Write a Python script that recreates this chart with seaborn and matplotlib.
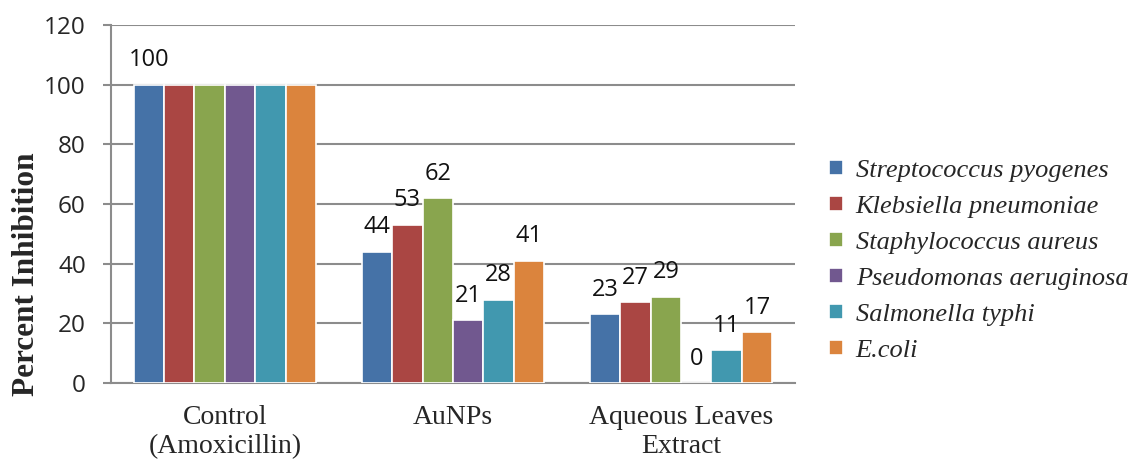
import matplotlib
matplotlib.use("Agg")
import matplotlib.pyplot as plt
import seaborn as sns
import pandas as pd

# Treatment groups and bacterial strains
groups = ["Control\n(Amoxicillin)", "AuNPs", "Aqueous Leaves\nExtract"]
strains = [
    "Streptococcus pyogenes",
    "Klebsiella pneumoniae",
    "Staphylococcus aureus",
    "Pseudomonas aeruginosa",
    "Salmonella typhi",
    "E.coli",
]

# Percent inhibition per strain, one list per treatment group
control_vals = [100, 100, 100, 100, 100, 100]
aunps_vals = [44, 53, 62, 21, 28, 41]
extract_vals = [23, 27, 29, 0, 11, 17]

colors = ["#4572A7", "#AA4643", "#89A54E", "#71588F", "#4198AF", "#DB843D"]

rows = []
for g, vals in zip(groups, [control_vals, aunps_vals, extract_vals]):
    for s, v in zip(strains, vals):
        rows.append({"Group": g, "Strain": s, "Inhibition": v})
df = pd.DataFrame(rows)

sns.set_theme(style="white")
plt.rcParams["font.family"] = ["Open Sans", "DejaVu Sans"]

fig = plt.figure(figsize=(11.31, 4.61), dpi=100)
ax = fig.add_axes([0.098, 0.169, 0.605, 0.777])

sns.barplot(
    data=df, x="Group", y="Inhibition", hue="Strain",
    order=groups, hue_order=strains, palette=colors,
    width=0.8, edgecolor="white", linewidth=1.2, saturation=1,
    ax=ax, zorder=3,
)

ax.set_ylim(0, 120)
ax.set_xlim(-0.5, 2.5)
ax.set_yticks(range(0, 121, 20))
ax.yaxis.grid(True, color="#8c8c8c", linewidth=1.5, zorder=0)
ax.set_axisbelow(True)

for side in ["top", "right"]:
    ax.spines[side].set_visible(False)
for side in ["left", "bottom"]:
    ax.spines[side].set_color("#8c8c8c")
    ax.spines[side].set_linewidth(1.5)

ax.tick_params(axis="y", length=6, width=1.5, color="#8c8c8c",
               labelsize=17.5, pad=12, left=True)
ax.tick_params(axis="x", length=0, pad=16)
for lbl in ax.get_xticklabels():
    lbl.set_fontfamily("Liberation Serif")
    lbl.set_fontsize(20)
    lbl.set_linespacing(1.22)

ax.set_xlabel("")
ax.set_ylabel("Percent Inhibition", fontfamily="Liberation Serif",
              fontsize=22.5, fontweight="bold")
ax.yaxis.set_label_coords(-0.102, 0.305)

# Value labels: control group is labelled once, on its first bar
for i, cont in enumerate(ax.containers):
    vals = [control_vals[i], aunps_vals[i], extract_vals[i]]
    labels = [str(v) for v in vals]
    if i != 0:
        labels[0] = ""
    ax.bar_label(cont, labels=labels, padding=9, fontsize=17,
                 color="#111111")

leg = ax.legend(
    loc="center left", bbox_to_anchor=(1.05, 0.34), frameon=False,
    prop={"family": "Liberation Serif", "style": "italic", "size": 19},
    handlelength=0.5, handleheight=0.5, handletextpad=0.5, labelspacing=0.53,
    borderaxespad=0, borderpad=0,
)

fig.savefig("out.png", dpi=100)
